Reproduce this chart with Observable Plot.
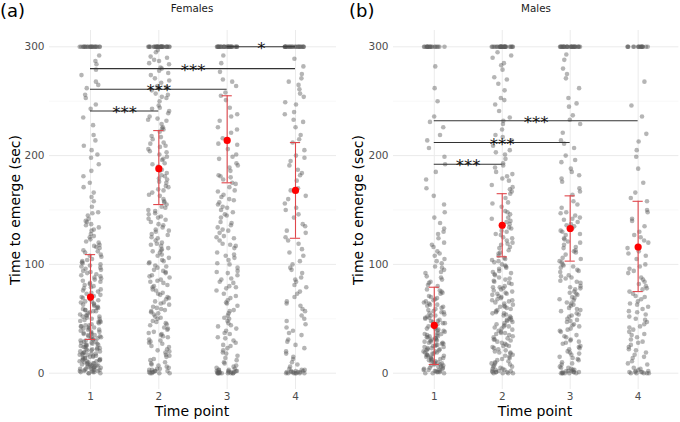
<!DOCTYPE html>
<html>
<head>
<meta charset="utf-8">
<script src="https://cdn.jsdelivr.net/npm/d3@7"></script>
<script src="https://cdn.jsdelivr.net/npm/@observablehq/plot@0.6"></script>
<style>
  body { margin: 0; background: #fff; }
  #wrap { position: relative; width: 680px; height: 422px; font-family: "DejaVu Sans", sans-serif; overflow: hidden; }
  .panel { position: absolute; top: 0; }
  .lbl { position: absolute; white-space: nowrap; color: #000; }
</style>
</head>
<body>
<div id="wrap">
  <div class="panel" id="left" style="left:0"></div>
  <div class="panel" id="right" style="left:340px"></div>
  <div class="lbl" style="left:0;top:0;font-size:18px;">(a)</div>
  <div class="lbl" style="left:349px;top:0;font-size:18px;">(b)</div>
  <div class="lbl" style="left:192px;top:8px;font-size:10.3px;transform:translate(-50%,-50%);color:#1a1a1a">Females</div>
  <div class="lbl" style="left:536px;top:8px;font-size:10.3px;transform:translate(-50%,-50%);color:#1a1a1a">Males</div>
  <div class="lbl" style="left:192px;top:411px;font-size:14px;transform:translate(-50%,-50%)">Time point</div>
  <div class="lbl" style="left:535px;top:411px;font-size:14px;transform:translate(-50%,-50%)">Time point</div>
  <div class="lbl" style="left:15px;top:210px;font-size:14px;transform:translate(-50%,-50%) rotate(-90deg)">Time to emerge (sec)</div>
  <div class="lbl" style="left:358px;top:210px;font-size:14px;transform:translate(-50%,-50%) rotate(-90deg)">Time to emerge (sec)</div>
</div>
<script>
// ---------------- data ----------------
const timePoints = [1, 2, 3, 4];
const yMajorTicks = [0, 100, 200, 300];
const yMinorTicks = [50, 150, 250];

// individual emergence times (sec) below the 300 s ceiling
const femT1 = [0,0,1,1,2,2,3,4,4,5,6,7,7,8,9,10,11,12,12,13,14,15,16,17,18,18,19,20,21,22,23,24,25,26,27,28,29,30,31,32,33,34,35,36,37,38,40,41,42,43,44,45,47,48,49,50,52,53,54,56,57,58,60,61,63,64,66,67,69,70,72,74,75,77,79,80,82,84,86,88,89,91,93,95,97,99,101,103,105,107,109,111,113,116,118,121,123,126,128,131,134,137,139,142,145,148,153,158,162,166,171,175,181,186,192,198,201,205,209,214,219,228,235,243,247,253,256,262,265,268,274,279,284,287,292,3,6,9,14,17,21,24,28,33,36,39,44,46,51,55,59,62,65,71,76,81,87,92,98,104,112,2,5,8,11,16,19,23,27,31,35,12,26,41,1,3,5,7,8,10,13,15,17,20,22,25,29,32,34,37,40,43,47,50,53,57,60,63,68,73,78,83,90,96,102,108,115,120,125,132,140,147,0,2,4,6,9,11,14,18,22,26,30,38,42,48,52,58,66,70,85,94,100,117,136];
const femT2 = [0,0,0,1,1,2,2,3,3,4,5,6,8,10,13,15,17,20,22,25,27,29,31,34,36,38,40,42,44,46,48,50,52,55,57,59,61,63,65,68,70,72,74,77,79,81,83,86,88,90,93,95,97,99,101,104,106,108,111,113,115,118,120,122,125,127,130,132,134,137,139,142,144,147,149,152,155,157,160,163,166,169,172,175,178,181,184,187,190,193,196,199,203,206,209,212,215,218,222,225,229,232,236,239,243,246,250,253,257,260,264,267,271,274,278,281,285,288,291,295,9,19,28,37,47,56,66,76,85,94,103,117,128,141,153,168,182,197,211,226,241,256,269,284,297,33,58,112,146,176,204,233,262,280,290,2,4,7,12,16,21,24,30,35,41,45,51,54,60,64,69,73,80,84,89,92,98,102,109,114,119,124,131,136,143,150,158,164,171,179,186,192,201,208,217,224,234,244,254,263,276,287,0,1];
const femT3 = [0,0,0,0,0,1,1,1,2,2,3,3,4,5,7,9,12,16,19,23,26,30,33,37,41,44,48,51,55,58,62,65,69,73,76,80,83,87,90,94,97,101,104,108,111,115,118,122,125,129,132,136,139,143,146,150,153,157,160,164,168,171,175,178,182,186,189,193,197,201,206,211,216,221,226,232,238,244,251,258,264,270,277,285,292,14,28,39,53,67,78,92,106,119,134,148,162,0,1,2,21,46,84,126,155,180,268,0,0,1,2,3,6,10,18,25,32,36,43,50,57,64,71,79,86,93,100,109,117,124,131,138,145,152,159,167,174,181,191,199,210,224,236,255,0,1];
const femT4 = [0,0,0,0,1,1,2,2,3,4,6,10,15,20,26,31,37,42,48,53,59,64,70,75,81,86,92,97,103,108,114,119,125,131,137,143,150,156,163,170,177,184,191,198,205,212,219,226,233,240,247,254,261,268,275,282,289,23,45,66,88,100,129,160,195,231,265,0,1,2,35,57,79,146,187,249,271,0,1,3,8,13,18,29,39,50,62,73,84,95,111,122,135,152,168,182,200,215,238,257,0,1];
const maleT1 = [0,0,1,1,2,3,3,4,5,6,7,8,9,10,11,12,13,14,15,16,17,18,19,20,21,22,23,24,25,26,27,28,29,30,31,32,33,34,35,36,38,39,40,42,43,44,46,47,48,50,51,53,54,56,58,59,61,63,65,67,69,71,73,75,77,80,83,86,89,92,95,98,101,105,108,112,116,120,124,128,133,138,143,148,155,163,170,178,185,192,199,207,214,219,226,231,236,250,262,282,4,9,14,18,23,27,32,37,41,45,52,57,62,68,74,2,6,11,16,21,26,30,35,44,49,55,64,84,97,110,0,1,2,3,5,7,8,10,12,13,15,17,19,20,22,24,25,28,29,31,33,34,36,39,41,43,46,48,51,53,56,60,63,66,70,76,81,88,93,103,118,130];
const maleT2 = [0,0,0,1,1,2,2,3,4,5,6,8,9,11,12,14,15,17,18,20,21,23,24,26,27,29,30,32,33,35,36,38,39,41,42,44,45,47,48,50,51,53,54,56,57,59,60,62,63,65,66,68,69,71,72,74,75,77,78,80,82,84,86,88,90,92,94,96,98,100,102,104,106,108,110,113,116,119,122,125,128,131,134,137,140,143,146,149,153,157,161,165,169,173,177,181,185,189,193,197,201,205,209,214,219,224,229,235,241,247,253,260,266,272,279,285,290,295,7,19,31,43,55,67,79,91,103,115,127,139,1,3,10,25,37,49,61,73,85,97,120,133,171,183,283,292,0,1,2,4,6,9,13,16,19,22,25,28,31,34,37,40,43,46,49,52,55,58,61,64,67,70,73,76,79,83,87,93,99,105,111,118,124,130,136,142,148,156,167,179,191,203,217,232,251,270];
const maleT3 = [0,0,0,0,1,1,2,3,4,6,8,10,13,15,18,20,23,25,28,30,33,35,38,40,43,45,48,50,53,55,58,60,63,65,68,70,73,75,78,80,83,85,88,90,93,95,98,100,103,106,109,112,115,118,121,124,127,130,133,136,139,142,145,148,152,158,164,170,176,182,188,194,200,207,214,221,229,237,245,253,262,271,280,288,293,5,12,22,31,41,52,62,72,87,97,111,123,137,0,1,2,17,27,47,57,67,77,102,116,131,143,185,248,275,0,1,2,3,5,9,14,19,24,29,34,39,44,49,54,59,64,69,74,79,84,89,94,99,105,113,120,128,135,141,147,155,167,179,196,211,233];
const maleT4 = [0,0,0,1,1,2,3,5,8,11,14,17,21,24,28,31,35,38,42,45,49,52,56,59,63,66,70,73,77,80,84,88,92,96,100,105,110,115,120,125,130,135,142,150,158,166,175,188,199,205,213,220,236,246,268,19,33,47,61,75,0,1,2,26,40,54,68,82,94,108,122,148,0,1,4,9,15,22,29,36,43,50,57,64,71,78,86,98,112,127,140,161];

// number of animals that hit the 300 s ceiling
const femAt300 = [22, 30, 28, 25];
const maleAt300 = [18, 28, 28, 16];

// model means and intervals
const femMean = [70, 188, 214, 168];
const femLow  = [31, 155, 175, 124];
const femHigh = [109, 223, 255, 212];
const maleMean = [44, 136, 133, 116];
const maleLow  = [8, 107, 103, 75];
const maleHigh = [79, 165, 163, 158];

// significance brackets
const femBrFrom = [3, 1, 1, 1];
const femBrTo   = [4, 4, 3, 2];
const femBrY    = [300, 280, 261, 241];
const femBrText = ["*", "***", "***", "***"];
const maleBrFrom = [1, 1, 1];
const maleBrTo   = [4, 3, 2];
const maleBrY    = [232, 212, 192];
const maleBrText = ["***", "***", "***"];

// ---------------- build ----------------
function jitterOffset(i, gi) {           // deterministic horizontal scatter (layout only)
  let h = Math.imul(i + 1, 0x9E3779B1) ^ Math.imul(gi + 7, 0x85EBCA6B);
  h ^= h >>> 15; h = Math.imul(h, 0x2C1B3C6D);
  h ^= h >>> 12; h = Math.imul(h, 0x297A2D39);
  h ^= h >>> 15;
  return ((h >>> 0) / 4294967296 - 0.5) * 0.32;
}
function buildPoints(groups, at300) {
  const pts = [];
  groups.forEach((vals, gi) => {
    const all = vals.concat(Array(at300[gi]).fill(300));
    all.forEach((v, i) => {
      pts.push({ t: timePoints[gi], xj: timePoints[gi] + jitterOffset(i, gi), v });
    });
  });
  return pts;
}
function buildSummary(m, lo, hi) {
  return timePoints.map((t, i) => ({ t, mean: m[i], lo: lo[i], hi: hi[i] }));
}
function buildBrackets(from, to, y, txt) {
  return from.map((f, i) => ({ from: f, to: to[i], y: y[i], label: txt[i] }));
}

function panel(points, summary, brackets, mLeft, mRight) {
  const capHalf = 0.075;
  const errColor = "#e0474c";
  return Plot.plot({
    width: 340,
    height: 422,
    marginTop: 30,
    marginBottom: 33,
    marginLeft: mLeft,
    marginRight: mRight,
    style: { fontFamily: "DejaVu Sans, sans-serif", background: "transparent", overflow: "visible" },
    x: { type: "linear", domain: [0.4, 4.6], axis: null },
    y: { domain: [-15, 315], axis: null },
    marks: [
      Plot.ruleY(yMinorTicks, { stroke: "#f3f3f3", strokeWidth: 0.6 }),
      Plot.ruleY(yMajorTicks, { stroke: "#ebebeb", strokeWidth: 1 }),
      Plot.ruleX(timePoints, { stroke: "#ebebeb", strokeWidth: 1 }),
      Plot.axisY(yMajorTicks, { tickSize: 0, tickPadding: 5, fontSize: 10.5, fill: "#4d4d4d", label: null }),
      Plot.axisX(timePoints, { tickSize: 0, tickPadding: 3, fontSize: 10.5, fill: "#4d4d4d", label: null, tickFormat: d => String(d) }),
      Plot.dot(points, { x: "xj", y: "v", r: 2.3, fill: "#5a5a5a", fillOpacity: 0.45, stroke: "none" }),
      Plot.ruleX(summary, { x: "t", y1: "lo", y2: "hi", stroke: errColor, strokeWidth: 1.1 }),
      Plot.ruleY(summary, { y: "lo", x1: d => d.t - capHalf, x2: d => d.t + capHalf, stroke: errColor, strokeWidth: 1.1 }),
      Plot.ruleY(summary, { y: "hi", x1: d => d.t - capHalf, x2: d => d.t + capHalf, stroke: errColor, strokeWidth: 1.1 }),
      Plot.dot(summary, { x: "t", y: "mean", r: 3.6, fill: "#ff0000", stroke: "none" }),
      Plot.ruleY(brackets, { y: "y", x1: "from", x2: "to", stroke: "#333", strokeWidth: 1.1 }),
      Plot.text(brackets, { x: d => (d.from + d.to) / 2, y: "y", text: "label", fontSize: 16.5, lineAnchor: "bottom", dy: 7, fill: "#111" })
    ]
  });
}

document.getElementById("left").appendChild(
  panel(buildPoints([femT1, femT2, femT3, femT4], femAt300),
        buildSummary(femMean, femLow, femHigh),
        buildBrackets(femBrFrom, femBrTo, femBrY, femBrText), 49, 4)
);
document.getElementById("right").appendChild(
  panel(buildPoints([maleT1, maleT2, maleT3, maleT4], maleAt300),
        buildSummary(maleMean, maleLow, maleHigh),
        buildBrackets(maleBrFrom, maleBrTo, maleBrY, maleBrText), 53, 1.6)
);
</script>
</body>
</html>
